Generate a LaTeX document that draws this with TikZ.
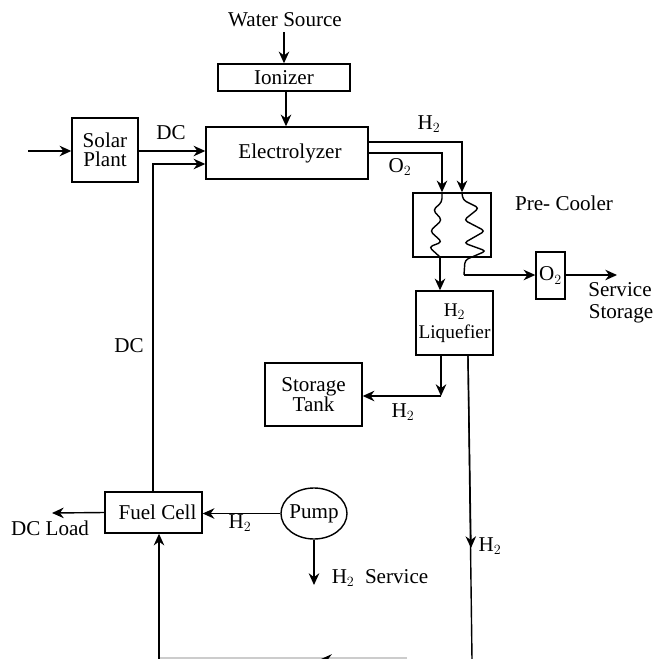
\documentclass[tikz,border=0pt]{standalone}
\usepackage{tikz}
\usepackage{amsmath}
\usepackage{fontspec}
\setmainfont{Liberation Serif}
\usetikzlibrary {positioning,arrows.meta,shapes.geometric}

\tikzset{
  unitbox/.style={draw,line width=1.2pt,inner sep=0pt,align=center,font=\fontsize{18}{16.5}\selectfont},
  flowlabel/.style={inner sep=0pt,align=left,font=\fontsize{18}{16.5}\selectfont},
  flowline/.style={line width=1.2pt,-{Stealth[length=10pt,width=9pt]}},
  plainline/.style={line width=1.2pt}
}

\begin{document}
\begin{tikzpicture}[x=0.03cm,y=-0.03cm]
\useasboundingbox (0,0) rectangle (653,659);

\node[unitbox,minimum width=3.96cm,minimum height=0.81cm] (Ionizer) at (284,77.5) {Ionizer};

\node[unitbox,minimum width=4.86cm,minimum height=1.56cm] (Electrolyzer) at (287,153) {\hspace*{0.18cm}Electrolyzer};

\node[unitbox,minimum width=1.98cm,minimum height=1.92cm] (Solar) at (105,150) {Solar\\Plant};

\node[unitbox,minimum width=2.34cm,minimum height=1.92cm] (Cooler) at (452,225) {};

\node[unitbox,minimum width=0.87cm,minimum height=1.41cm] (Oxygen) at (550.5,275.5) {O$_2$};

\node[unitbox,minimum width=2.31cm,minimum height=1.92cm,font=\fontsize{16.5}{16.5}\selectfont] (Liquefier) at (454.5,323) {H$_2$\\[2pt]Liquefier};

\node[unitbox,minimum width=2.91cm,minimum height=1.89cm] (Tank) at (313.5,394.5) {Storage\\Tank};

\node[unitbox,minimum width=2.91cm,minimum height=1.23cm] (FuelCell) at (153.5,512.5) {\hspace*{0.24cm}Fuel Cell};

\node[unitbox,ellipse,inner xsep=-1.5pt,minimum width=1.98cm,minimum height=1.53cm] (Pump) at (314,513.5) {Pump};

\node[flowlabel] (WaterLabel) at (285,20) {Water Source};
\node[flowlabel] (DCTop) at (171,133) {DC};
\node[flowlabel] (DCLeft) at (129,346) {DC};
\node[flowlabel] (HTop) at (429,124) {H$_2$};
\node[flowlabel] (OTop) at (400,167) {O$_2$};
\node[flowlabel] (CoolerLabel) at (564,203) {Pre- Cooler};
\node[flowlabel] (ServiceLabel) at (620,290) {Service};
\node[flowlabel] (StorageLabel) at (621,314) {Storage};
\node[flowlabel] (HTank) at (403,412) {H$_2$};
\node[flowlabel] (HRight) at (490,546) {H$_2$};
\node[flowlabel] (HPump) at (240,523) {H$_2$};
\node[flowlabel] (LoadLabel) at (50,528) {DC Load};
\node[flowlabel] (ServicePump) at (380,578) {H$_2$\ \ Service};

\coordinate (WaterEnd) at (284,32);
\coordinate (SunEnd) at (28,151);
\coordinate (DCCorner) at (153,164);
\coordinate (HCorner) at (462,142);
\coordinate (OCorner) at (442,153);
\coordinate (OutEnd) at (617,275);
\coordinate (LoadEnd) at (52,513);
\coordinate (ServiceEnd) at (314,585);
\coordinate (TankCorner) at (441,396);
\coordinate (RightLow) at (472,659);
\coordinate (GrayEnd) at (407,658);
\coordinate (LeftLow) at (159,659);
\coordinate (GrayStart) at (160,658);
\coordinate (TipEnd) at (320,659.5);
\coordinate (TipStart) at (332,659.5);

\draw[flowline] (WaterEnd) -- (Ionizer.north -| WaterEnd);
\draw[flowline] (Ionizer.south -| 286,0) -- (Electrolyzer.north -| 286,0);
\draw[flowline] (SunEnd) -- (Solar.west |- SunEnd);
\draw[flowline] (Solar.east |- SunEnd) -- (Electrolyzer.west |- SunEnd);
\draw[flowline] (FuelCell.north -| DCCorner) -- (DCCorner) -- (Electrolyzer.west |- DCCorner);

\draw[flowline] (Electrolyzer.east |- HCorner) -- (HCorner) -- (Cooler.north -| HCorner);
\draw[flowline] (Electrolyzer.east |- OCorner) -- (OCorner) -- (Cooler.north -| OCorner);

% coils inside the cooler
\draw[plainline,rounded corners=3pt] (442,193) -- (442,202) -- (433,210) -- (442,220) -- (430,231) -- (442,242) -- (429,247) -- (440,257);
\draw[plainline,rounded corners=3pt] (462,193) -- (463,200) -- (479,208) -- (464,220) -- (485,231) -- (464,243) -- (486,251) -- (465,260) -- (464,275);

\draw[flowline] (440,257) -- (Liquefier.north -| 440,0);
\draw[flowline] (464,275) -- (Oxygen.west |- 0,275);
\draw[flowline] (Oxygen.east |- OutEnd) -- (OutEnd);

\draw[flowline] (Liquefier.south -| TankCorner) -- (TankCorner);
\draw[flowline] (TankCorner) -- (Tank.east |- TankCorner);

\draw[plainline] (Liquefier.south -| 468,0) -- (RightLow);
\draw[flowline] (Liquefier.south -| 468,0) -- (471,548);

\draw[gray!40,line width=1.2pt] (GrayEnd) -- (GrayStart);
\draw[flowline] (TipStart) -- (TipEnd);
\draw[flowline] (LeftLow) -- (FuelCell.south -| LeftLow);

\draw[flowline] (Pump.west) -- (FuelCell.east |- Pump.west);
\draw[flowline] (FuelCell.west) -- (LoadEnd);
\draw[flowline] (Pump.south) -- (ServiceEnd);
\end{tikzpicture}
\end{document}
